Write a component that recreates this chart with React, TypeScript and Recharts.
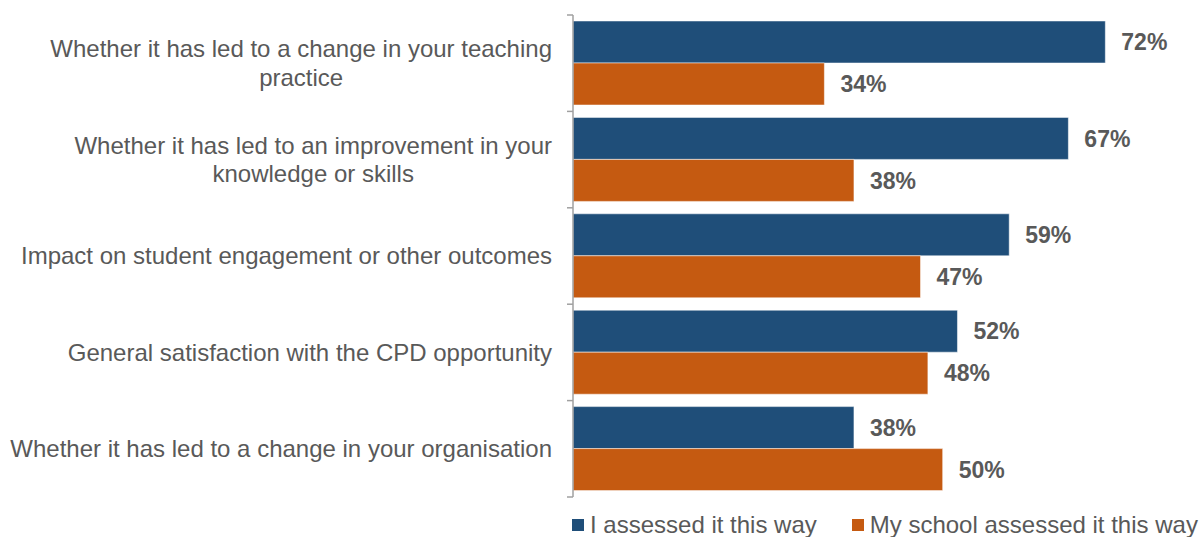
import React from 'react';
import { BarChart, Bar, XAxis, YAxis, LabelList, Legend } from 'recharts';

const categories = [
  'Whether it has led to a change in your teaching practice',
  'Whether it has led to an improvement in your knowledge or skills',
  'Impact on student engagement or other outcomes',
  'General satisfaction with the CPD opportunity',
  'Whether it has led to a change in your organisation',
];
const selfValues = [72, 67, 59, 52, 38];
const schoolValues = [34, 38, 47, 48, 50];
const seriesNames = ['I assessed it this way', 'My school assessed it this way'];
const seriesColors = ['#1F4E79', '#C55A11'];

const data = categories.map((name, i) => ({ name, self: selfValues[i], school: schoolValues[i] }));

const FONT = '"Liberation Sans", Arial, Helvetica, sans-serif';
const TEXT = '#595959';
const AXIS = '#a0a0a0';
const W = 1202;
const H = 537;
const MARGIN = { top: 15, right: 39, bottom: 40, left: 0 };
const AXIS_W = 573;
const CAT_FONT = 24;
const LINE_H = 28.5;
const WRAP_W = 560;

let ctx: CanvasRenderingContext2D | null = null;
function measure(text: string, size: number): number {
  if (!ctx) {
    const c = document.createElement('canvas');
    ctx = c.getContext('2d');
  }
  if (!ctx) return text.length * size * 0.5;
  ctx.font = `${size}px ${FONT}`;
  return ctx.measureText(text).width;
}

function wrap(text: string, size: number, maxW: number): string[] {
  const words = text.split(' ');
  const lines: string[] = [];
  let cur = '';
  for (const w of words) {
    const t = cur ? cur + ' ' + w : w;
    if (measure(t, size) > maxW && cur) {
      lines.push(cur);
      cur = w;
    } else cur = t;
  }
  if (cur) lines.push(cur);
  return lines;
}

const CategoryTick = (props: any) => {
  const { x, y, payload, index } = props;
  const band = (H - MARGIN.top - MARGIN.bottom) / categories.length;
  const lines = wrap(String(payload.value), CAT_FONT, WRAP_W);
  const maxW = Math.max(...lines.map((l) => measure(l, CAT_FONT)));
  const cx = x - 21 - maxW / 2;
  const startY = y - ((lines.length - 1) * LINE_H) / 2;
  return (
    <g>
      <line x1={x - 6} x2={x} y1={y - band / 2} y2={y - band / 2} stroke={AXIS} strokeWidth={1.5} />
      {index === categories.length - 1 && (
        <line x1={x - 6} x2={x} y1={y + band / 2} y2={y + band / 2} stroke={AXIS} strokeWidth={1.5} />
      )}
      <text textAnchor="middle" fill={TEXT} fontSize={CAT_FONT} fontFamily={FONT}>
        {lines.map((l, i) => (
          <tspan key={i} x={cx} y={startY + i * LINE_H} dy="0.35em">
            {l}
          </tspan>
        ))}
      </text>
    </g>
  );
};

const LegendContent = () => (
  <div style={{ display: 'flex', alignItems: 'center', fontFamily: FONT, fontSize: 24, color: TEXT, whiteSpace: 'nowrap', lineHeight: '28px' }}>
    {seriesNames.map((n, i) => (
      <div key={n} style={{ display: 'flex', alignItems: 'center', marginRight: i === 0 ? 35 : 0 }}>
        <span style={{ display: 'inline-block', width: 12, height: 12, background: seriesColors[i], marginRight: 6 }} />
        <span>{n}</span>
      </div>
    ))}
  </div>
);

export default function App() {
  return (
    <div style={{ position: 'absolute', left: 0, top: 0, width: W, height: H, background: '#fff' }}>
      <BarChart width={W} height={H} data={data} layout="vertical" margin={MARGIN} barGap={0} barSize={42}>
        <XAxis type="number" domain={[0, 79.8]} hide />
        <YAxis
          type="category"
          dataKey="name"
          width={AXIS_W}
          tickSize={0}
          tickMargin={0}
          tickLine={false}
          axisLine={{ stroke: AXIS, strokeWidth: 1.5 }}
          tick={<CategoryTick />}
          interval={0}
        />
        <Legend
          layout="horizontal"
          verticalAlign="middle"
          align="center"
          content={<LegendContent />}
          wrapperStyle={{ left: 572, top: 511, bottom: 'auto', width: 'auto', height: 'auto' }}
        />
        <Bar dataKey="self" name={seriesNames[0]} fill={seriesColors[0]} stroke="#ffffff" strokeWidth={0.5} isAnimationActive={false}>
          <LabelList dataKey="self" position="right" offset={16} formatter={(v: any) => `${v}%`} fill={TEXT} fontSize={23} fontWeight={700} fontFamily={FONT} />
        </Bar>
        <Bar dataKey="school" name={seriesNames[1]} fill={seriesColors[1]} stroke="#ffffff" strokeWidth={0.5} isAnimationActive={false}>
          <LabelList dataKey="school" position="right" offset={16} formatter={(v: any) => `${v}%`} fill={TEXT} fontSize={23} fontWeight={700} fontFamily={FONT} />
        </Bar>
      </BarChart>
    </div>
  );
}
